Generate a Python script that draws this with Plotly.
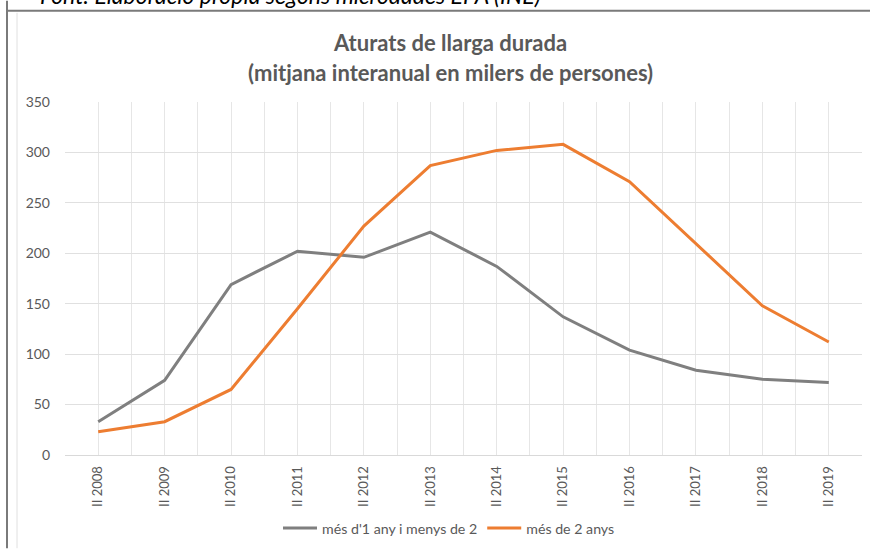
import plotly.graph_objects as go

categories = ["II 2008", "II 2009", "II 2010", "II 2011", "II 2012", "II 2013",
              "II 2014", "II 2015", "II 2016", "II 2017", "II 2018", "II 2019"]
serie_1_2 = [33, 74, 169, 202, 196, 221, 187, 137, 104, 84, 75, 72]
serie_2plus = [23, 33, 65, 145, 227, 287, 302, 308, 271, 210, 148, 112]
name_1_2 = "més d'1 any i menys de 2"
name_2plus = "més de 2 anys"
y_ticks = [0, 50, 100, 150, 200, 250, 300, 350]

W, H = 870, 552
L, R, T, B = 65, 8, 102, 94
pw, ph = W - L - R, H - T - B

def px(x):
    return (x - L) / pw

def py(y):
    return (H - B - y) / ph

xs = list(range(len(categories)))
FONT = "Lato, 'Open Sans', sans-serif"
TXT = "#595959"

fig = go.Figure()
fig.add_trace(go.Scatter(x=xs, y=serie_1_2, mode="lines", name=name_1_2,
                         line=dict(color="#7f7f7f", width=3)))
fig.add_trace(go.Scatter(x=xs, y=serie_2plus, mode="lines", name=name_2plus,
                         line=dict(color="#ed7d31", width=3)))

fig.update_layout(
    width=W, height=H,
    margin=dict(l=L, r=R, t=T, b=B),
    paper_bgcolor="white", plot_bgcolor="white",
    font=dict(family=FONT, color=TXT, size=12),
    showlegend=True,
    legend=dict(orientation="h", x=px(449), xanchor="center", y=py(532), yanchor="middle",
                font=dict(size=14.2, color=TXT), itemwidth=34, traceorder="normal"),
    annotations=[
        dict(text="<b>Aturats de llarga durada</b>", x=px(450), y=py(42), xref="paper", yref="paper",
             showarrow=False, font=dict(size=22, color=TXT, family=FONT), xanchor="center", yanchor="middle"),
        dict(text="<b>(mitjana interanual en milers de persones)</b>", x=px(450), y=py(72), xref="paper", yref="paper",
             showarrow=False, font=dict(size=22, color=TXT, family=FONT), xanchor="center", yanchor="middle"),
        dict(text="<i>Font: Elaboració pròpia segons microdades EPA (INE)</i>", x=px(38), y=py(10), xref="paper", yref="paper",
             showarrow=False, font=dict(size=23, color="#000000", family=FONT), xanchor="left", yanchor="bottom"),
    ],
    shapes=[
        dict(type="line", xref="paper", yref="paper", x0=px(7), x1=px(7), y0=py(0), y1=py(552),
             line=dict(color="#7a7a7a", width=2)),
        dict(type="line", xref="paper", yref="paper", x0=px(7), x1=px(870), y0=py(10), y1=py(10),
             line=dict(color="#7a7a7a", width=2)),
        dict(type="line", xref="paper", yref="paper", x0=px(17), x1=px(17), y0=py(12), y1=py(552),
             line=dict(color="#e0e0e0", width=1)),
    ],
)

fig.update_xaxes(
    range=[-0.5, len(categories) - 0.5],
    tickmode="array", tickvals=xs, ticktext=categories, tickangle=-90,
    showgrid=True, gridcolor="#e6e6e6", gridwidth=1,
    minor=dict(tick0=0.5, dtick=1, showgrid=True, gridcolor="#e6e6e6", gridwidth=1),
    showline=True, linecolor="#d9d9d9", linewidth=1, ticklabelstandoff=5,
    ticks="", tickfont=dict(size=13, color=TXT), zeroline=False, fixedrange=True,
)
fig.update_yaxes(
    range=[0, 350], tickmode="array", tickvals=y_ticks,
    showgrid=True, gridcolor="#e0e0e0", gridwidth=1,
    showline=False, zeroline=False, ticks="", ticklabelstandoff=14,
    tickfont=dict(size=14, color=TXT), fixedrange=True,
)

fig.write_html("out.html", config={"displayModeBar": False},
               post_script="document.body.style.margin='0px';document.body.style.overflow='hidden';")
